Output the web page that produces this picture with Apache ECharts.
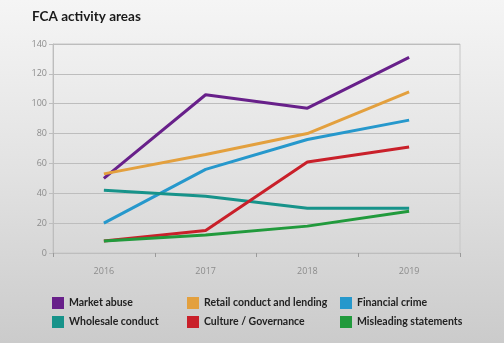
<!DOCTYPE html>
<html>
<head>
<meta charset="utf-8">
<script src="https://cdn.jsdelivr.net/npm/echarts@6/dist/echarts.min.js"></script>
<style>
  html, body { margin: 0; padding: 0; }
  #chart { width: 504px; height: 343px;
    background: linear-gradient(180deg, #f5f5f5 0%, #e2e2e2 50%, #cbcbcb 100%); }
</style>
</head>
<body>
<div id="chart"></div>
<script>
// Years on the horizontal axis
const years = ['2016', '2017', '2018', '2019'];

// Activity areas, one array per line
const marketAbuse = [50, 106, 97, 131];
const retailConduct = [53, 66, 80, 108];
const financialCrime = [20, 56, 76, 89];
const wholesaleConduct = [42, 38, 30, 30];
const cultureGovernance = [8, 15, 61, 71];
const misleadingStatements = [8, 12, 18, 28];

const yTicks = [0, 20, 40, 60, 80, 100, 120, 140];

const seriesDefs = [
  { name: 'Market abuse', data: marketAbuse, color: '#68208a' },
  { name: 'Retail conduct and lending', data: retailConduct, color: '#e3a03e' },
  { name: 'Financial crime', data: financialCrime, color: '#2698cc' },
  { name: 'Wholesale conduct', data: wholesaleConduct, color: '#17938a' },
  { name: 'Culture / Governance', data: cultureGovernance, color: '#c9202a' },
  { name: 'Misleading statements', data: misleadingStatements, color: '#219a3c' }
];

const boldFont = "Lato, 'Liberation Sans', sans-serif";
const axisFont = "'Open Sans', 'Liberation Sans', sans-serif";
const legendText = { color: '#222', fontSize: 10.5, fontWeight: 'bold', fontFamily: boldFont };

function legendColumn(names, left) {
  return {
    data: names, orient: 'vertical', left: left, top: 297, padding: 0,
    itemWidth: 12, itemHeight: 12, itemGap: 7, icon: 'rect',
    textStyle: legendText, selectedMode: false
  };
}

const chart = echarts.init(document.getElementById('chart'), null, { renderer: 'canvas' });
chart.setOption({
  animation: false,
  title: {
    text: 'FCA activity areas', left: 32, top: 10, padding: 0,
    textStyle: { fontSize: 13.5, fontWeight: 'bold', color: '#1a1a1a', fontFamily: boldFont }
  },
  legend: [
    legendColumn(['Market abuse', 'Wholesale conduct'], 52),
    legendColumn(['Retail conduct and lending', 'Culture / Governance'], 187),
    legendColumn(['Financial crime', 'Misleading statements'], 340)
  ],
  grid: {
    left: 53, right: 44, top: 44, bottom: 90,
    show: true, borderColor: '#c6c6c6', borderWidth: 1, backgroundColor: 'transparent'
  },
  xAxis: {
    type: 'category', data: years, boundaryGap: true,
    axisLine: { lineStyle: { color: '#bdbdbd' } },
    axisTick: { show: true, length: 4, lineStyle: { color: '#9a9a9a' } },
    axisLabel: { color: '#8c8c8c', fontSize: 9, margin: 14, fontFamily: axisFont }
  },
  yAxis: {
    type: 'value', min: yTicks[0], max: yTicks[yTicks.length - 1], interval: 20,
    axisLine: { show: true, lineStyle: { color: '#bdbdbd' } },
    axisTick: { show: true, length: 4, lineStyle: { color: '#bdbdbd' } },
    splitLine: { lineStyle: { color: '#bdbdbd' } },
    axisLabel: { color: '#8c8c8c', fontSize: 9, margin: 6, fontFamily: axisFont }
  },
  series: seriesDefs.map(s => ({
    name: s.name, type: 'line', data: s.data,
    symbol: 'none', showSymbol: false,
    lineStyle: { width: 3, color: s.color },
    itemStyle: { color: s.color }
  }))
});
</script>
</body>
</html>
